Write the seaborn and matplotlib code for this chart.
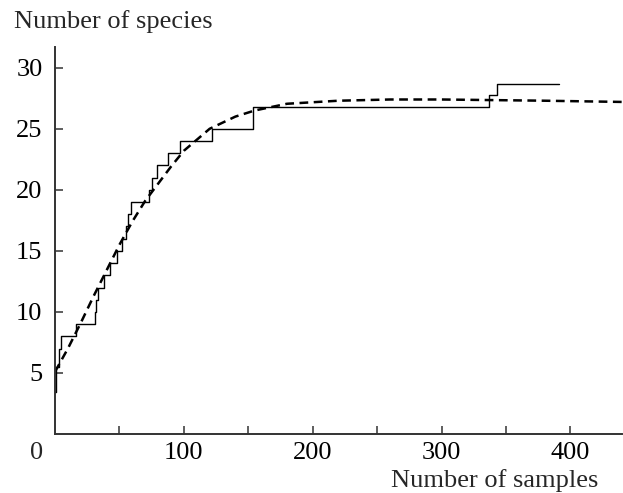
import pandas as pd
import seaborn as sns
import matplotlib.pyplot as plt

# observed species accumulation (step curve): sample number where each level starts
step_x = [0, 1, 3, 5, 16, 31, 32, 33, 38, 43, 48, 52, 55, 57, 59, 73, 75, 79, 88, 97,
          122, 154, 337, 343, 391]
step_y = [3.4, 5.5, 7, 8, 9, 10, 11, 12, 13, 14, 15, 16, 17, 18, 19, 20, 21, 22, 23, 24,
          25, 26.8, 27.8, 28.7, 28.7]

# fitted curve (dashed)
fit_x = [0, 10, 20, 30, 40, 50, 60, 70, 80, 90, 100, 110, 120, 130, 140, 155, 180,
         220, 260, 300, 340, 380, 440]
fit_y = [5.1, 7.0, 9.1, 11.3, 13.4, 15.5, 17.4, 19.1, 20.5, 21.9, 23.2, 24.1, 25.0,
         25.5, 26.0, 26.5, 27.05, 27.3, 27.4, 27.4, 27.35, 27.3, 27.2]

xticks = [50, 100, 150, 200, 250, 300, 350, 400]
xtick_labels = ['', '100', '', '200', '', '300', '', '400']
yticks = [5, 10, 15, 20, 25, 30]

steps = pd.DataFrame({'samples': step_x, 'species': step_y})
fit = pd.DataFrame({'samples': fit_x, 'species': fit_y})

sns.set_theme(style='ticks')
plt.rcParams['font.family'] = ['Liberation Serif', 'DejaVu Serif']

fig = plt.figure(figsize=(6.23, 4.93), dpi=100)
ax = fig.add_axes([55 / 623, 59 / 493, 567 / 623, 387 / 493])

sns.lineplot(data=steps, x='samples', y='species', ax=ax, color='black',
             linewidth=1.0, drawstyle='steps-post', estimator=None)
sns.lineplot(data=fit, x='samples', y='species', ax=ax, color='black',
             linewidth=1.8, linestyle=(0, (3.5, 2.2)), estimator=None)

ax.set_xlim(0, 440)
ax.set_ylim(0, 31.7)
ax.set_xticks(xticks)
ax.set_xticklabels(xtick_labels)
ax.set_yticks(yticks)
ax.set_xlabel('')
ax.set_ylabel('')
sns.despine(ax=ax)
for s in ['left', 'bottom']:
    ax.spines[s].set_linewidth(1.4)
    ax.spines[s].set_color('#333333')
ax.tick_params(direction='in', length=6, width=1.1, color='#333333',
               labelsize=19, labelcolor='black')
ax.tick_params(axis='x', pad=6)
ax.tick_params(axis='y', pad=9)

ax.annotate('0', xy=(0, 0), xycoords='data', xytext=(-13.5, -6),
            textcoords='offset points', ha='center', va='top', fontsize=19)

fig.text(14 / 623, 1 - 10 / 493, 'Number of species', ha='left', va='top', fontsize=19)
fig.text(598 / 623, 1 / 493, 'Number of samples', ha='right', va='bottom', fontsize=19)

fig.savefig('out.png', dpi=100)
